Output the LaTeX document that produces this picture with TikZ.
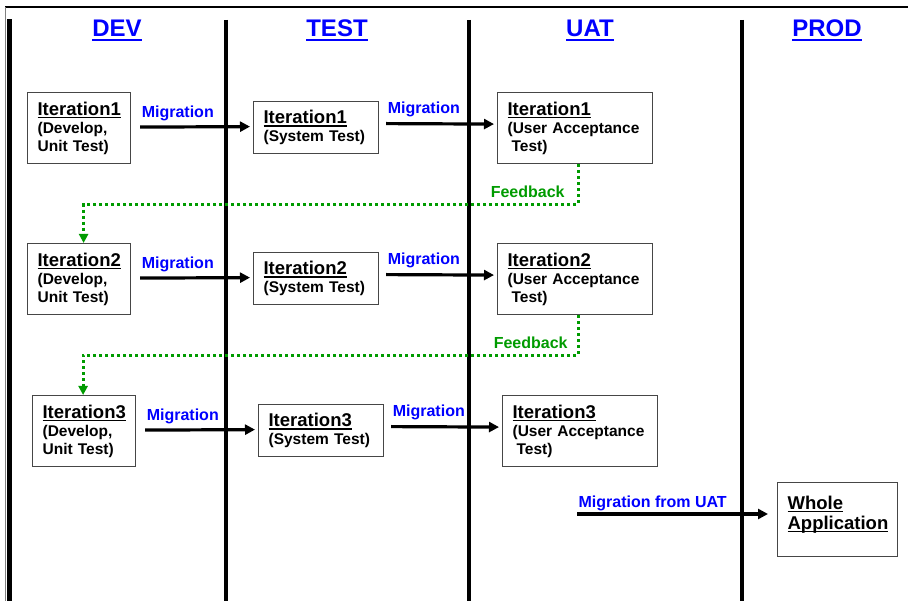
\documentclass[tikz,border=0pt]{standalone}
\usepackage{fontspec}
\setmainfont{Liberation Sans}
\usepackage{tikz}
\usetikzlibrary{arrows.meta,positioning,calc}
\definecolor{laneblue}{RGB}{0,0,255}
\definecolor{fbgreen}{RGB}{0,155,0}
\definecolor{boxgray}{RGB}{70,70,70}

% underline with a thicker rule
\newsavebox{\undlbox}
\newcommand{\undl}[1]{\leavevmode\sbox\undlbox{#1}\rlap{\rule[-0.16em]{\wd\undlbox}{0.08em}}\usebox\undlbox}
\newcommand{\ittitle}[1]{{\fontsize{18.5}{18}\selectfont\undl{#1}}}

\begin{document}
\begin{tikzpicture}[x=1pt, y=-1pt,
    header/.style={font=\fontsize{24}{26}\selectfont\bfseries, text=laneblue, anchor=base, inner sep=0pt},
    lane/.style={line width=3.8pt},
    itbox/.style={draw=boxgray, line width=1.2pt, fill=white, anchor=north west, align=left,
        inner xsep=10pt, inner ysep=0pt, font=\fontsize{15.5}{18}\selectfont\bfseries},
    miglabel/.style={font=\fontsize{16}{18}\selectfont\bfseries, text=laneblue, inner sep=0pt},
    migarrow/.style={-{Triangle[length=10pt,width=10pt]}, line width=3.2pt},
    fbpath/.style={-{Triangle[length=9pt,width=9pt]}, fbgreen, line width=3pt, dash pattern=on 3pt off 3pt},
    fblabel/.style={font=\fontsize{16}{18}\selectfont\bfseries, text=fbgreen, inner sep=0pt}]
    \useasboundingbox (0,0) rectangle (908,601);

    % Frame
    \draw[line width=2pt] (5,7) -- (908,7);
    \draw[gray, line width=1pt] (5,7) -- (5,601);
    \fill (7,19) rectangle (12,601);

    % Lanes
    \foreach \x in {226,469,742}
        \draw[lane] (\x,20) -- (\x,601);

    % Lane headers
    \node[header] (hdev)  at (117,37) {\undl{DEV}};
    \node[header] (htest) at (337,37) {\undl{TEST}};
    \node[header] (huat)  at (590,37) {\undl{UAT}};
    \node[header] (hprod) at (827,37) {\undl{PROD}};

    % Iterations
    \foreach \i/\dx/\dy in {1/0/0, 2/0/151, 3/5/303} {
        \node[itbox, text width=83pt, minimum height=71pt] (d\i) at (27+\dx,92+\dy)
            {\ittitle{Iteration\i}\\(Develop,\\Unit Test)};
        \node[itbox, text width=105pt, minimum height=52pt] (t\i) at (253+\dx,101+\dy)
            {\ittitle{Iteration\i}\\(System Test)};
        \node[itbox, text width=135pt, minimum height=71pt] (u\i) at (497+\dx,92+\dy)
            {\ittitle{Iteration\i}\\(User Acceptance\\\hspace*{4pt}Test)};

        % Migration arrows
        \draw[migarrow, shorten >=3pt] ([xshift=9pt,yshift=1pt]d\i.east)
            node[miglabel, anchor=south west, yshift=5pt] {Migration} -- ([yshift=1pt]t\i.west);
        \draw[migarrow, shorten >=3pt] ([xshift=7pt,yshift=4pt]t\i.east)
            node[miglabel, anchor=south west, yshift=5pt] {Migration} -- ([yshift=4pt]u\i.west);
    }

    % Feedback loops
    \foreach \i/\j/\s/\f in {1/2/4.5/-12, 2/3/-1/-9}
        \draw[fbpath] ([xshift=3pt]u\i.south) -- ++(0,40)
            node[fblabel, anchor=south east, xshift=\f pt, yshift=5pt] {Feedback} -| ([xshift=\s pt]d\j.north);

    % Production
    \node[itbox, text width=100pt, minimum height=74pt, font=\fontsize{18.5}{20}\selectfont\bfseries] (w) at (777,482)
        {\undl{Whole}\\\undl{Application}\rule[-14pt]{0pt}{14pt}};
    \coordinate (mfu) at (577,514);
    \draw[migarrow, shorten >=9pt] (mfu)
        node[miglabel, anchor=south west, yshift=2pt] {Migration from UAT} -- (mfu -| w.west);
\end{tikzpicture}
\end{document}
